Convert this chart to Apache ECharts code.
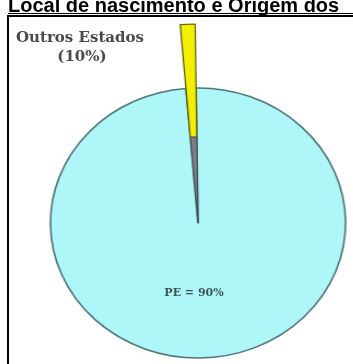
<!DOCTYPE html>
<html>
<head>
<meta charset="utf-8">
<script src="https://cdn.jsdelivr.net/npm/echarts@6/dist/echarts.min.js"></script>
<style>
html,body{margin:0;padding:0;background:#fff;overflow:hidden;}
#pie{position:absolute;left:0;top:0;width:353px;height:364px;transform:scaleX(1.093);transform-origin:198px 0;}
#overlay{position:absolute;left:0;top:0;width:353px;height:364px;pointer-events:none;}
</style>
</head>
<body>
<div id="pie"></div>
<div id="overlay"></div>
<script>
// Data
const titleText = 'Local de nascimento e Origem dos';
const categories = ['Outros Estados', 'PE'];
const printedPercents = [10, 90];          // percentages printed on the chart
const drawnShares = [1.1, 98.9];           // slice sizes as actually drawn in the picture
const sliceColors = ['#f2f000', '#aef6f8'];

const pie = echarts.init(document.getElementById('pie'), null, {renderer: 'canvas'});
const startAngle = 94.7;
const center = [198, 223];
const hidden = {color: 'rgba(0,0,0,0)', borderWidth: 0};

pie.setOption({
  animation: false,
  series: [
    {
      type: 'pie', silent: true, center: center, radius: [0, 135], startAngle: startAngle,
      clockwise: true, label: {show: false}, labelLine: {show: false},
      data: [
        {name: categories[0], value: drawnShares[0], itemStyle: hidden},
        {name: categories[1], value: drawnShares[1], itemStyle: {color: sliceColors[1], borderColor: '#4f7676', borderWidth: 1.6}}
      ]
    },
    {
      type: 'pie', silent: true, center: center, radius: [86, 199], startAngle: startAngle,
      clockwise: true, label: {show: false}, labelLine: {show: false},
      data: [
        {name: categories[0], value: drawnShares[0], itemStyle: {color: sliceColors[0], borderColor: '#5d5a10', borderWidth: 1.2}},
        {name: categories[1], value: drawnShares[1], itemStyle: hidden}
      ]
    },
    {
      type: 'pie', silent: true, center: center, radius: [0, 86], startAngle: startAngle,
      clockwise: true, label: {show: false}, labelLine: {show: false},
      data: [
        {name: categories[0], value: drawnShares[0], itemStyle: {color: '#7f7f86', borderColor: '#3d4a4e', borderWidth: 1}},
        {name: categories[1], value: drawnShares[1], itemStyle: hidden}
      ]
    }
  ]
});

const ov = echarts.init(document.getElementById('overlay'), null, {renderer: 'canvas'});
const serif = '"DejaVu Serif", "Liberation Serif", serif';
ov.setOption({
  animation: false,
  graphic: [
    {type: 'text', x: 8, y: 16, style: {text: titleText, font: 'bold 20px "Liberation Sans", Arial, sans-serif', fill: '#000', verticalAlign: 'bottom'}},
    {type: 'rect', shape: {x: 8, y: 13, width: 345, height: 1}, style: {fill: '#000'}},
    {type: 'rect', shape: {x: 7, y: 15, width: 360, height: 2}, style: {fill: '#000'}},
    {type: 'rect', shape: {x: 7, y: 15, width: 2, height: 360}, style: {fill: '#000'}},
    {type: 'text', x: 80, y: 38, style: {text: categories[0], font: 'bold 15px ' + serif, fill: '#4a4a4a', align: 'center', verticalAlign: 'middle'}},
    {type: 'text', x: 82, y: 57, style: {text: '(' + printedPercents[0] + '%)', font: 'bold 15px ' + serif, fill: '#4a4a4a', align: 'center', verticalAlign: 'middle'}},
    {type: 'text', x: 194, y: 293, style: {text: categories[1] + ' = ' + printedPercents[1] + '%', font: 'bold 11px ' + serif, fill: '#3f5555', align: 'center', verticalAlign: 'middle'}}
  ]
});
</script>
</body>
</html>
